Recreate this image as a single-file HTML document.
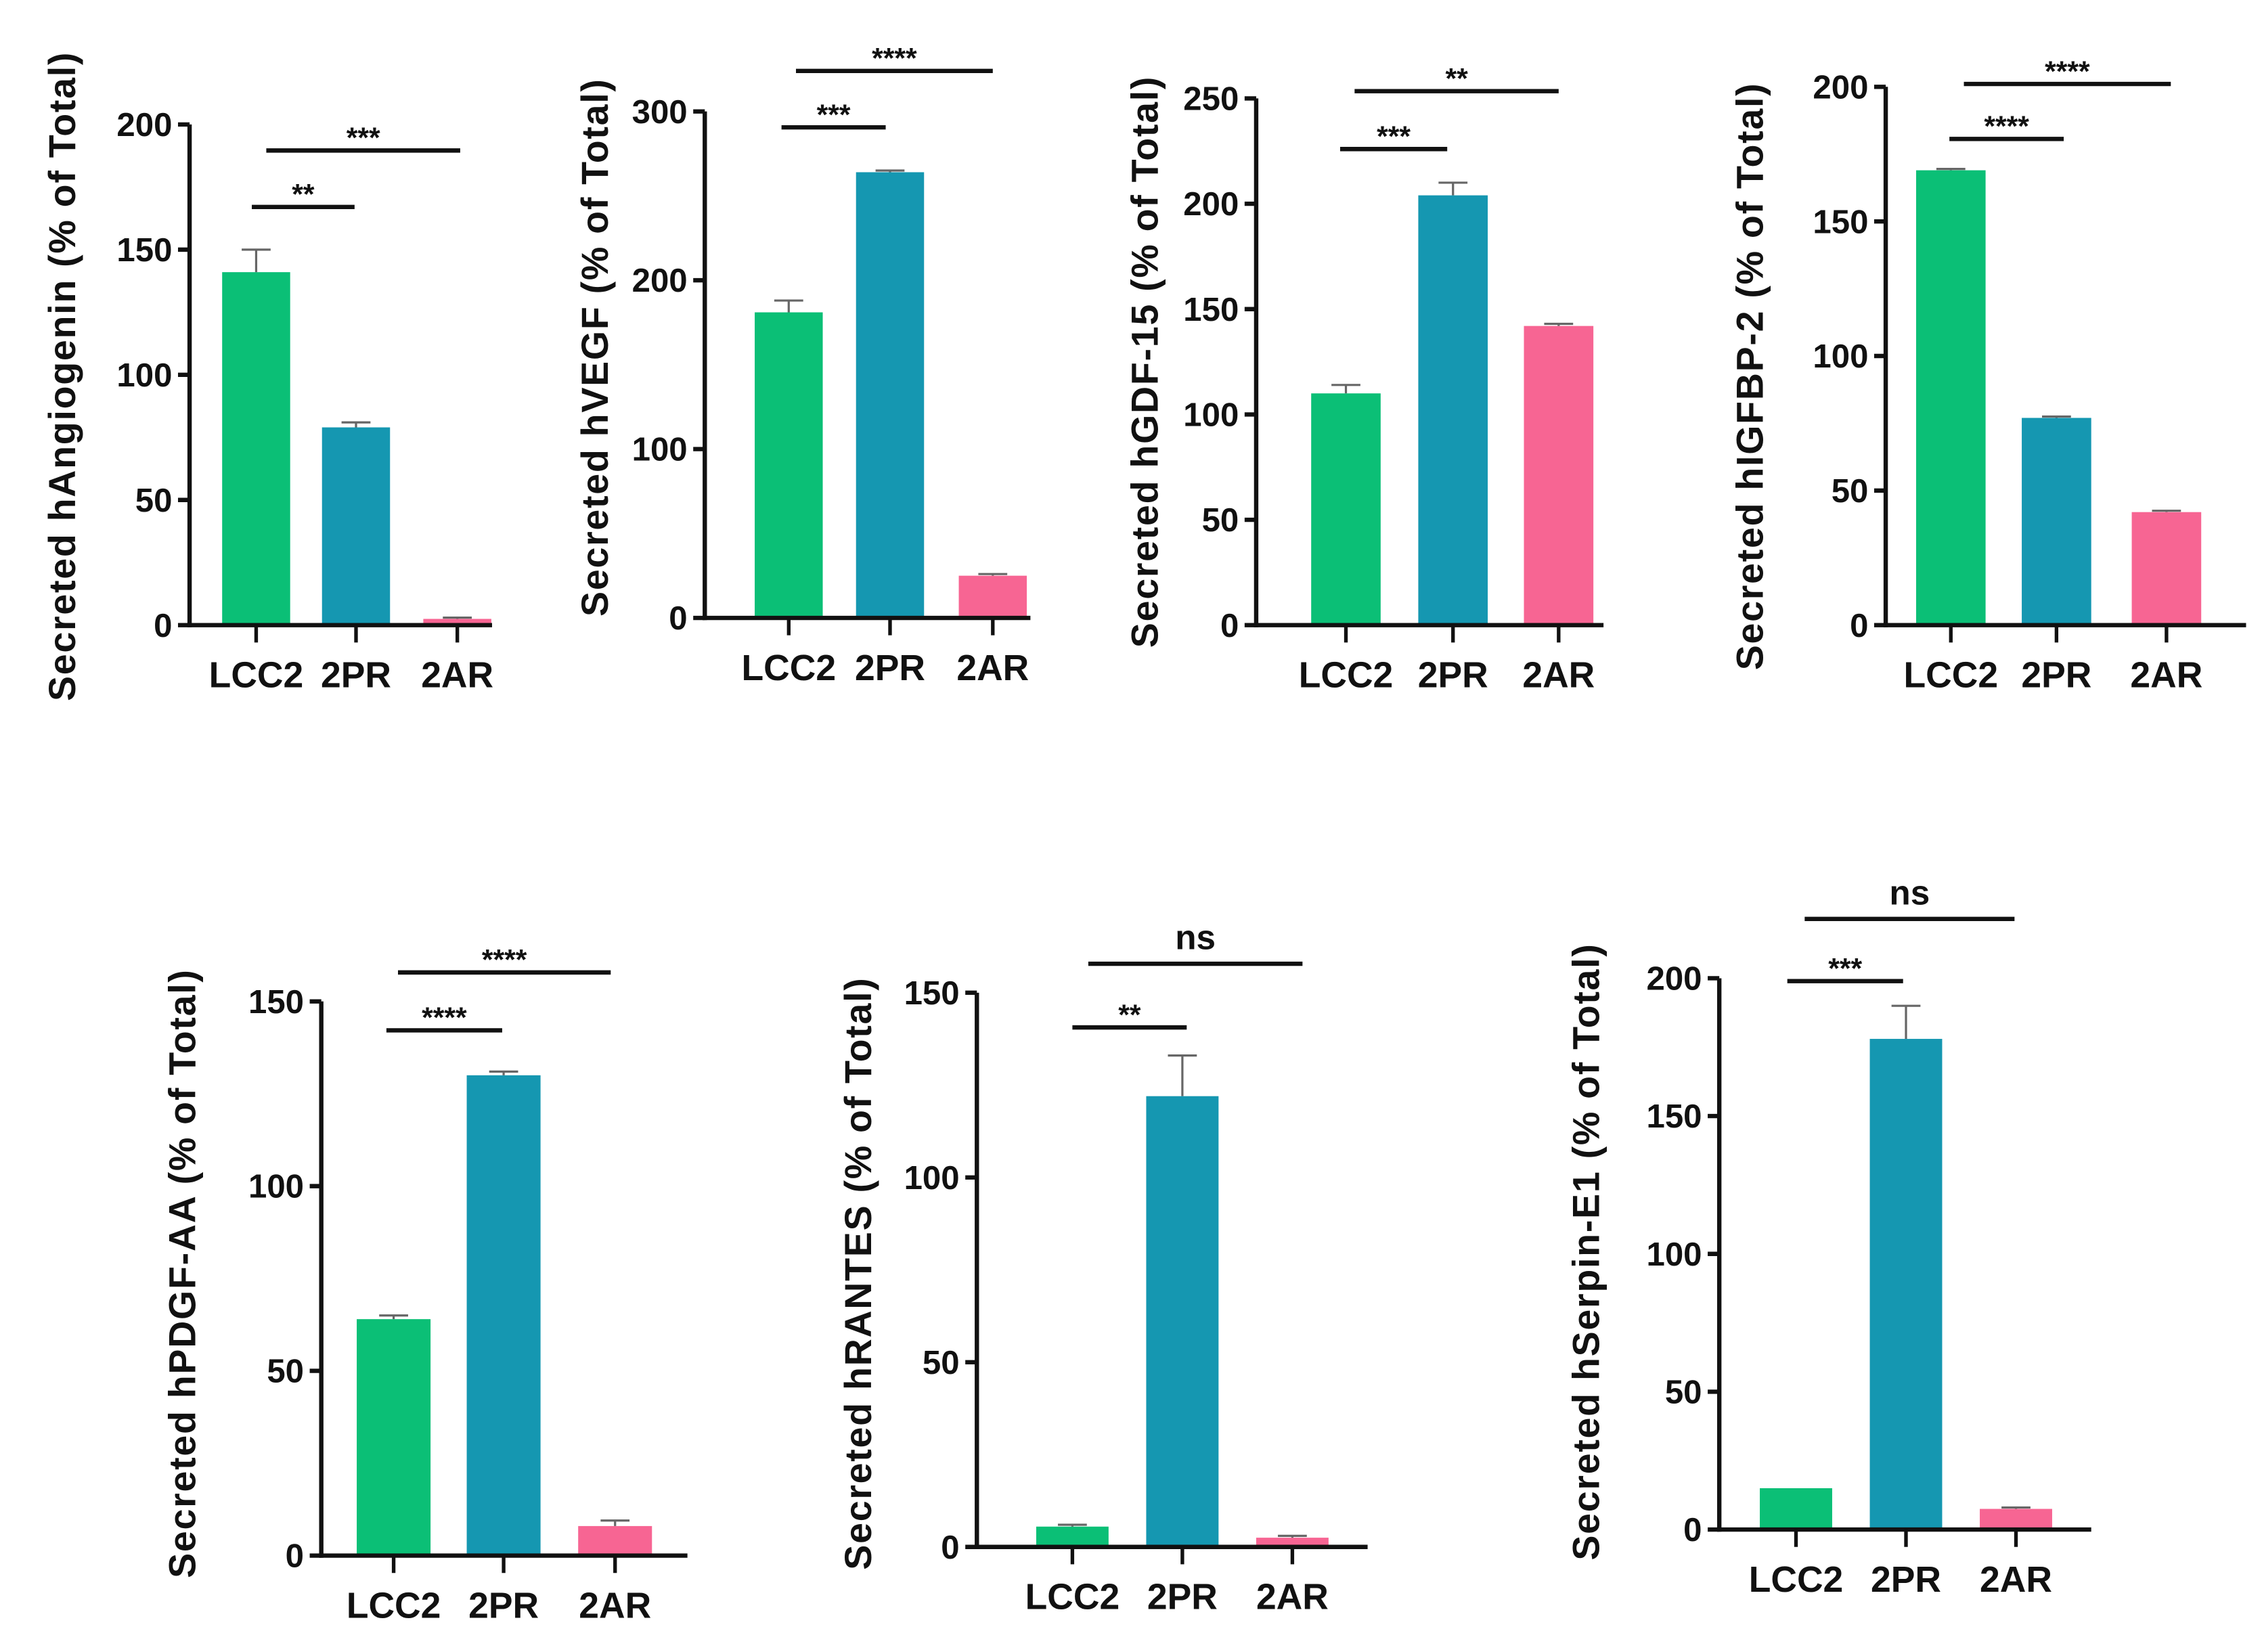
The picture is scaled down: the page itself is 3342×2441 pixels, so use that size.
<!DOCTYPE html>
<html><head><meta charset="utf-8"><style>
html,body{margin:0;padding:0;background:#fff;}
svg{display:block;}
text{font-family:"Liberation Sans",Arial,sans-serif;font-weight:bold;fill:#111;}
</style></head>
<body>
<svg id="fig" width="3342" height="2441" viewBox="0 0 1563 1141.6" xmlns="http://www.w3.org/2000/svg"></svg>
<script>
const categories = ["LCC2","2PR","2AR"];
const colors = ["#0bbf76","#1597b1","#f76593"];
const titles = ["Secreted hAngiogenin (% of Total)","Secreted hVEGF (% of Total)","Secreted hGDF-15 (% of Total)","Secreted hIGFBP-2 (% of Total)","Secreted hPDGF-AA (% of Total)","Secreted hRANTES (% of Total)","Secreted hSerpin-E1 (% of Total)"];
const values1 = [141, 79, 2.5];   const errors1 = [9, 2, 0.5];
const values2 = [181, 264, 25];   const errors2 = [7, 1, 1];
const values3 = [110, 204, 142];  const errors3 = [4, 6, 1];
const values4 = [169, 77, 42];    const errors4 = [0.5, 0.5, 0.5];
const values5 = [64, 130, 8];     const errors5 = [1, 1, 1.5];
const values6 = [5.5, 122, 2.5];  const errors6 = [0.5, 11, 0.5];
const values7 = [15, 178, 7.5];   const errors7 = [0, 12, 0.5];
const ticks1 = [0,50,100,150,200];
const ticks2 = [0,100,200,300];
const ticks3 = [0,50,100,150,200,250];
const ticks4 = [0,50,100,150,200];
const ticks5 = [0,50,100,150];
const ticks6 = [0,50,100,150];
const ticks7 = [0,50,100,150,200];
const sigLabels1 = ["**","***"];
const sigLabels2 = ["***","****"];
const sigLabels3 = ["***","**"];
const sigLabels4 = ["****","****"];
const sigLabels5 = ["****","****"];
const sigLabels6 = ["**","ns"];
const sigLabels7 = ["***","ns"];

// layout (not data)
const layouts = [
 {ax:131,top:86,bot:432,end:340,cx:[177,246,316],bw:47,tx:42,ty:260,sig:[[174,245,143],[184,318,104]]},
 {ax:487,top:77,bot:427,end:712,cx:[545,615,686],bw:47,tx:410,ty:240,sig:[[540,612,88],[550,686,49]]},
 {ax:868,top:68,bot:432,end:1108,cx:[930,1004,1077],bw:48,tx:790,ty:250,sig:[[926,1000,103],[936,1077,63]]},
 {ax:1303,top:60,bot:432,end:1552,cx:[1348,1421,1497],bw:48,tx:1208,ty:260,sig:[[1347,1426,96],[1357,1500,58]]},
 {ax:222,top:692,bot:1075,end:475,cx:[272,348,425],bw:51,tx:125,ty:880,sig:[[267,347,712],[275,422,672]]},
 {ax:675,top:686,bot:1069,end:945,cx:[741,817,893],bw:50,tx:592,ty:880,sig:[[741,820,710],[752,900,666]]},
 {ax:1188,top:676,bot:1057,end:1445,cx:[1241,1317,1393],bw:50,tx:1095,ty:865,sig:[[1235,1315,678],[1247,1392,635]]}
];
const allValues=[values1,values2,values3,values4,values5,values6,values7];
const allErrors=[errors1,errors2,errors3,errors4,errors5,errors6,errors7];
const allTicks=[ticks1,ticks2,ticks3,ticks4,ticks5,ticks6,ticks7];
const allSig=[sigLabels1,sigLabels2,sigLabels3,sigLabels4,sigLabels5,sigLabels6,sigLabels7];

const svg=document.getElementById('fig');
const NS="http://www.w3.org/2000/svg";
function mk(tag,attrs,parent){const e=document.createElementNS(NS,tag);for(const k in attrs)e.setAttribute(k,attrs[k]);parent.appendChild(e);return e;}

layouts.forEach((L,p)=>{
  const g=mk('g',{},svg);
  
  
  const ticks=allTicks[p], vals=allValues[p], errs=allErrors[p];
  const ymax=ticks[ticks.length-1];
  const y=v=>L.bot-(v/ymax)*(L.bot-L.top);
  vals.forEach((v,i)=>{
    const r=mk('rect',{x:L.cx[i]-L.bw/2,y:y(v),width:L.bw,height:L.bot-y(v),fill:colors[i]},g);
    
    
    if(errs[i]>0){
      const e=mk('path',{d:`M${L.cx[i]} ${y(v)} V${y(v+errs[i])} M${L.cx[i]-10} ${y(v+errs[i])} H${L.cx[i]+10}`,stroke:'#666',"stroke-width":1.5,fill:'none'},g);
      
      
    }
  });
  const ya=mk('line',{x1:L.ax,y1:L.top,x2:L.ax,y2:L.bot+1.5,stroke:'#111',"stroke-width":3},g);
  
  
  const xa=mk('line',{x1:L.ax-1.5,y1:L.bot,x2:L.end,y2:L.bot,stroke:'#111',"stroke-width":3},g);
  
  
  ticks.forEach(t=>{
    mk('line',{x1:L.ax-8,y1:y(t),x2:L.ax,y2:y(t),stroke:'#111',"stroke-width":3},g);
    const tl=mk('text',{x:L.ax-12,y:y(t)+8,"text-anchor":'end',"font-size":23},g);
    tl.textContent=t;
    
    
  });
  categories.forEach((c,i)=>{
    mk('line',{x1:L.cx[i],y1:L.bot,x2:L.cx[i],y2:L.bot+12,stroke:'#111',"stroke-width":2.5},g);
    const cl=mk('text',{x:L.cx[i],y:L.bot+43,"text-anchor":'middle',"font-size":25},g);
    cl.textContent=c;
    
    
  });
  const tt=mk('text',{x:0,y:0,"text-anchor":'middle',"font-size":26,"letter-spacing":0.8,transform:`translate(${L.tx+10},${L.ty}) rotate(-90)`},g);
  tt.textContent=titles[p];
  
  
  L.sig.forEach((s,k)=>{
    mk('line',{x1:s[0],y1:s[2],x2:s[1],y2:s[2],stroke:'#111',"stroke-width":3},g);
    const lab=allSig[p][k];
    const st=mk('text',{x:(s[0]+s[1])/2,y:lab==='ns'?s[2]-10:s[2]-2,"text-anchor":'middle',"font-size":lab==='ns'?24:20},g);
    st.textContent=lab;
    
    
  });
});
</script>
</body></html>
